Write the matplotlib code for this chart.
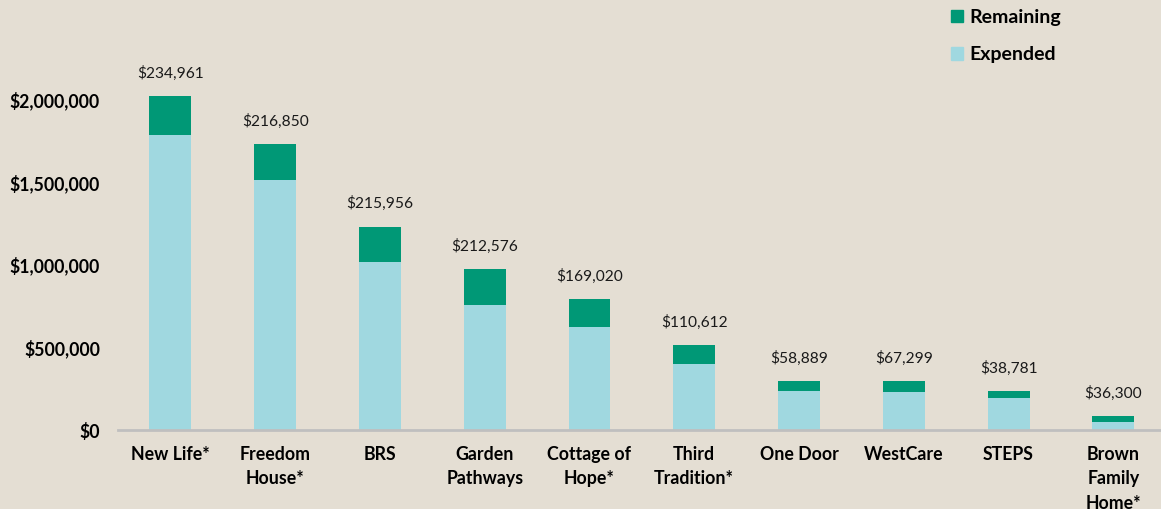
import matplotlib
matplotlib.use("Agg")
import matplotlib.pyplot as plt
from matplotlib.ticker import FuncFormatter
from matplotlib.patches import Patch

categories = ["New Life*", "Freedom\nHouse*", "BRS", "Garden\nPathways", "Cottage of\nHope*",
              "Third\nTradition*", "One Door", "WestCare", "STEPS", "Brown\nFamily\nHome*"]
expended = [1786000, 1514000, 1015000, 760000, 622000, 403000, 239000, 231000, 197000, 52000]
remaining = [234961, 216850, 215956, 212576, 169020, 110612, 58889, 67299, 38781, 36300]
yticks = [0, 500000, 1000000, 1500000, 2000000]

bg = "#E4DED3"
c_rem = "#009876"
c_exp = "#A0D8E0"

plt.rcParams['font.family'] = ['Lato', 'DejaVu Sans']

W, H = 1161, 509
fig = plt.figure(figsize=(W/100, H/100), dpi=100, facecolor=bg)
ax = fig.add_axes([118/W, 1 - 430.3/H, 1 - 118/W, 430.3/H])
ax.set_facecolor(bg)

x = list(range(len(categories)))
ax.bar(x, expended, width=0.4, color=c_exp, label="Expended", zorder=2)
ax.bar(x, remaining, width=0.4, bottom=expended, color=c_rem, label="Remaining", zorder=2)

for xi, e, r in zip(x, expended, remaining):
    ax.annotate(f"${r:,.0f}", (xi, e + r), xytext=(0, 11), textcoords="offset points",
                ha="center", va="bottom", fontsize=11.2, color="#1a1a1a")

ax.set_xlim(-0.5, 9.455)
ax.set_ylim(0, 430.3 / 165.5 * 1e6)
ax.set_yticks(yticks)
ax.yaxis.set_major_formatter(FuncFormatter(lambda v, p: f"${v:,.0f}"))
ax.set_xticks(x)
ax.set_xticklabels(categories, fontsize=12.8, fontweight="bold", linespacing=1.55)
for lab in ax.get_yticklabels():
    lab.set_fontweight("bold")
    lab.set_fontsize(12.7)
ax.tick_params(axis="both", length=0)
ax.tick_params(axis="y", pad=13)
ax.tick_params(axis="x", pad=11)
for s in ["top", "right", "left"]:
    ax.spines[s].set_visible(False)
ax.spines["bottom"].set_color("#BFBFBF")
ax.spines["bottom"].set_linewidth(2)

handles = [Patch(color=c_rem, label="Remaining"), Patch(color=c_exp, label="Expended")]
leg = fig.legend(handles=handles, loc="upper left", bbox_to_anchor=(951/W, 1 - 9/H),
                 frameon=False, prop={"weight": "bold", "size": 14}, borderpad=0,
                 borderaxespad=0,
                 handlelength=0.62, handleheight=0.62, handletextpad=0.3, labelspacing=1.05)

fig.savefig("out.png", dpi=100, facecolor=bg)
